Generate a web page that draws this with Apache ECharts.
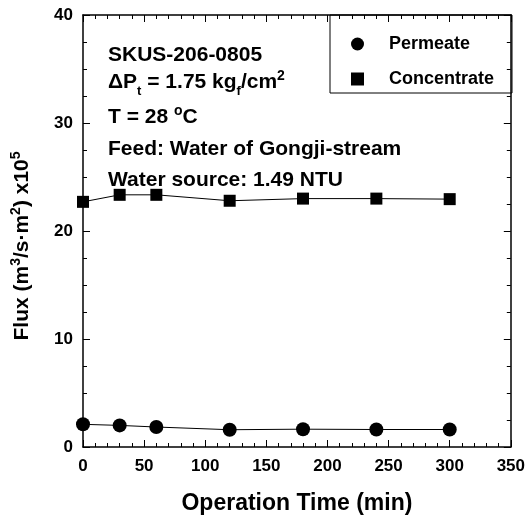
<!DOCTYPE html>
<html><head><meta charset="utf-8">
<script src="https://cdn.jsdelivr.net/npm/echarts@6/dist/echarts.min.js"></script>
<style>html,body{margin:0;padding:0;background:#fff}#c{width:528px;height:520px}</style>
</head><body><div id="c"></div>
<script>
const times = [0, 30, 60, 120, 180, 240, 300];
const permeate = [2.1, 2.0, 1.85, 1.6, 1.65, 1.62, 1.62];
const concentrate = [22.7, 23.35, 23.35, 22.8, 23.0, 23.0, 22.95];
const seriesNames = ['Permeate', 'Concentrate'];

const F = 'Liberation Sans, Arial, sans-serif';
const chart = echarts.init(document.getElementById('c'));
const line = {show: true, onZero: false, lineStyle: {color: '#000', width: 1.5}};
const tick = {show: true, inside: true, length: 7, lineStyle: {color: '#000', width: 1}};
const minor = n => ({show: true, splitNumber: n, length: 4, lineStyle: {color: '#000', width: 1}});
const rt = {
  a: {fontFamily: F, fontWeight: 'bold', fontSize: 21, color: '#000', verticalAlign: 'bottom', lineHeight: 24},
  b: {fontFamily: F, fontWeight: 'bold', fontSize: 13, color: '#000', verticalAlign: 'bottom', lineHeight: 24, padding: [0, 0, -5, 0]},
  c: {fontFamily: F, fontWeight: 'bold', fontSize: 14, color: '#000', verticalAlign: 'top', lineHeight: 24}
};
chart.setOption({
  animation: false,
  grid: {left: 83, right: 16, top: 15, bottom: 70},
  xAxis: [
    {type: 'value', min: 0, max: 350, interval: 50, position: 'bottom',
      axisLine: line, axisTick: tick, minorTick: minor(5), splitLine: {show: false},
      axisLabel: {color: '#000', fontFamily: F, fontWeight: 'bold', fontSize: 17, margin: 11},
      name: 'Operation Time (min)', nameLocation: 'middle', nameGap: 45,
      nameTextStyle: {color: '#000', fontFamily: F, fontWeight: 'bold', fontSize: 23}},
    {type: 'value', min: 0, max: 350, interval: 50, position: 'top',
      axisLine: line, axisTick: tick, minorTick: minor(5), splitLine: {show: false},
      axisLabel: {show: false}}
  ],
  yAxis: [
    {type: 'value', min: 0, max: 40, interval: 10, position: 'left',
      axisLine: line, axisTick: tick, minorTick: minor(4), splitLine: {show: false},
      axisLabel: {color: '#000', fontFamily: F, fontWeight: 'bold', fontSize: 17, margin: 10}},
    {type: 'value', min: 0, max: 40, interval: 10, position: 'right',
      axisLine: line, axisTick: tick, minorTick: minor(4), splitLine: {show: false},
      axisLabel: {show: false}}
  ],
  legend: {
    orient: 'vertical', left: 346, top: 29, itemGap: 15, itemWidth: 13, itemHeight: 13,
    textStyle: {color: '#000', fontFamily: F, fontWeight: 'bold', fontSize: 18, lineHeight: 20, padding: [0, 0, 0, 20]},
    data: [{name: seriesNames[0], icon: 'circle'}, {name: seriesNames[1], icon: 'rect'}]
  },
  graphic: [
    {type: 'rect', shape: {x: 330, y: 15, width: 182, height: 78}, style: {fill: 'none', stroke: '#000', lineWidth: 1}, z: 1},
    {type: 'text', x: 21, y: 246, rotation: Math.PI / 2, style: {
      text: '{t|Flux (m}{s|3}{t|/s·m}{s|2}{t|) x10}{s|5}', align: 'center', verticalAlign: 'middle',
      rich: {
        t: {fontFamily: F, fontWeight: 'bold', fontSize: 21, color: '#000', verticalAlign: 'bottom', lineHeight: 24},
        s: {fontFamily: F, fontWeight: 'bold', fontSize: 14, color: '#000', verticalAlign: 'top', lineHeight: 24}
      }}},
    {type: 'text', x: 108, y: 54, style: {text: '{a|SKUS-206-0805}', verticalAlign: 'middle', rich: rt}},
    {type: 'text', x: 108, y: 81, style: {text: '{a|ΔP}{b|t}{a| = 1.75 kg}{b|f}{a|/cm}{c|2}', verticalAlign: 'middle', rich: rt}},
    {type: 'text', x: 108, y: 116, style: {text: '{a|T = 28 }{c|o}{a|C}', verticalAlign: 'middle', rich: rt}},
    {type: 'text', x: 108, y: 148, style: {text: '{a|Feed: Water of Gongji-stream}', verticalAlign: 'middle', rich: rt}},
    {type: 'text', x: 108, y: 179, style: {text: '{a|Water source: 1.49 NTU}', verticalAlign: 'middle', rich: rt}}
  ],
  series: [
    {name: seriesNames[0], type: 'line', data: times.map((t, i) => [t, permeate[i]]),
      symbol: 'circle', symbolSize: 14, itemStyle: {color: '#000'}, lineStyle: {color: '#000', width: 1}, z: 5},
    {name: seriesNames[1], type: 'line', data: times.map((t, i) => [t, concentrate[i]]),
      symbol: 'rect', symbolSize: 12, itemStyle: {color: '#000'}, lineStyle: {color: '#000', width: 1}, z: 5}
  ]
});
</script></body></html>
